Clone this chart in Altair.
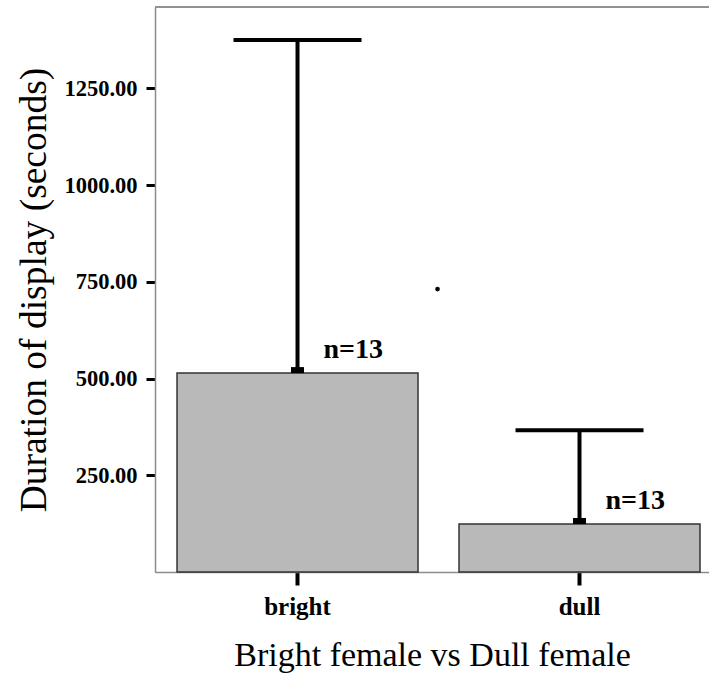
import altair as alt
import pandas as pd

# Group means, upper error limits and sample sizes
groups = ["bright", "dull"]
means = [514, 124]
upper = [1375, 366]
counts = [13, 13]

# single stray observation drawn between the two groups
stray_value = [731]

df = pd.DataFrame({
    "group": groups,
    "mean": means,
    "upper": upper,
    "label": [f"n={n}" for n in counts],
})
stray = pd.DataFrame({"group": ["bright"], "value": stray_value})

serif = "Liberation Serif"

x = alt.X(
    "group:N",
    sort=groups,
    scale=alt.Scale(paddingInner=0.1454, paddingOuter=0.055, align=0.71),
    axis=alt.Axis(
        title="Bright female vs Dull female",
        labelAngle=0,
        labelFont=serif,
        labelFontWeight="bold",
        labelFontSize=25,
        labelColor="black",
        labelPadding=9,
        tickSize=13,
        tickWidth=4,
        tickColor="black",
        domainColor="#8c8c8c",
        domainWidth=1.5,
        titleFont=serif,
        titleFontWeight="normal",
        titleFontSize=34,
        titleColor="black",
        titlePadding=19,
    ),
)

yscale = alt.Scale(domain=[0, 1460], nice=False, zero=True)
y = alt.Y(
    "mean:Q",
    scale=yscale,
    axis=alt.Axis(
        title="Duration of display (seconds)",
        values=[250, 500, 750, 1000, 1250],
        format=".2f",
        grid=False,
        labelFont=serif,
        labelFontWeight="bold",
        labelFontSize=22.5,
        labelColor="black",
        labelPadding=9,
        tickSize=9,
        tickWidth=3,
        tickColor="black",
        domainColor="#8c8c8c",
        domainWidth=1.5,
        titleFont=serif,
        titleFontWeight="normal",
        titleFontSize=37.5,
        titleColor="black",
        titlePadding=10,
    ),
)

bars = alt.Chart(df).mark_bar(
    fill="#b9b9b9", stroke="#333333", strokeWidth=1.5
).encode(x=x, y=y)

whisker = alt.Chart(df).mark_rule(color="black", strokeWidth=4).encode(
    x=alt.X("group:N", sort=groups),
    y=alt.Y("mean:Q", scale=yscale),
    y2="upper:Q",
)

cap = alt.Chart(df).mark_tick(color="black", size=128, thickness=4, opacity=1).encode(
    x=alt.X("group:N", sort=groups),
    y=alt.Y("upper:Q", scale=yscale),
)

base_marker = alt.Chart(df).mark_tick(
    color="black", size=13, thickness=6, opacity=1, yOffset=-3
).encode(
    x=alt.X("group:N", sort=groups),
    y=alt.Y("mean:Q", scale=yscale),
)

labels = alt.Chart(df).mark_text(
    align="left", baseline="alphabetic", dx=26, dy=-15,
    font=serif, fontWeight="bold", fontSize=28, color="black",
).encode(
    x=alt.X("group:N", sort=groups),
    y=alt.Y("mean:Q", scale=yscale),
    text="label:N",
)

dot = alt.Chart(stray).mark_circle(color="black", size=22, opacity=1, xOffset=140).encode(
    x=alt.X("group:N", sort=groups),
    y=alt.Y("value:Q", scale=yscale),
)

# top edge of the plot frame
top_edge = alt.Chart(df).mark_rule(color="#8c8c8c", strokeWidth=1.5).encode(
    x=alt.value(0), x2=alt.value(560), y=alt.value(0)
)

chart = alt.layer(
    bars, whisker, cap, base_marker, labels, dot, top_edge
).properties(
    width=554,
    height=565,
    autosize=alt.AutoSizeParams(type="none"),
    padding={"left": 155, "top": 7, "right": 0, "bottom": 101},
).configure_view(stroke=None).configure(background="white")

chart.save("out.html", embed_options={"renderer": "svg", "actions": False})
